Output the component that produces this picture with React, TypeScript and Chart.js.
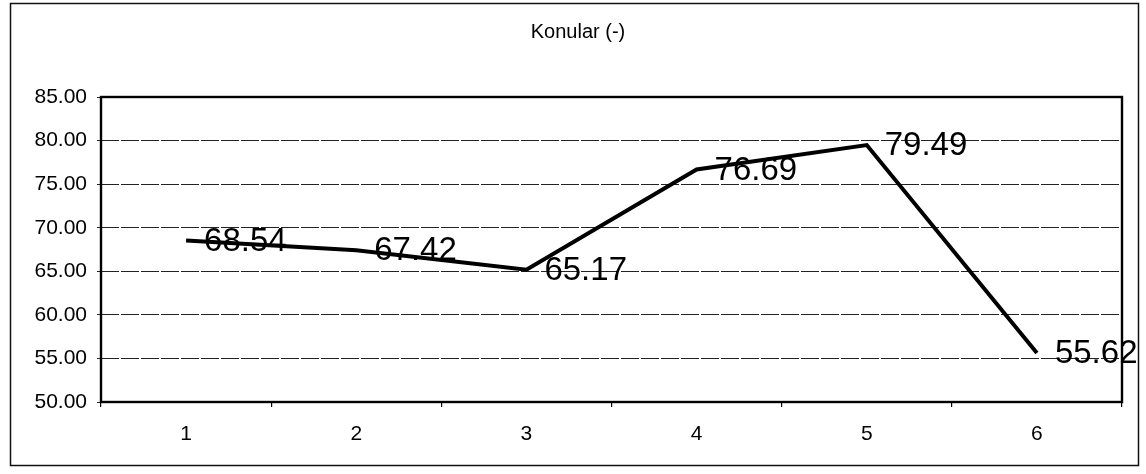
import { useEffect, useRef } from 'react';
import { Chart, registerables } from 'chart.js';

Chart.register(...registerables);

const categories = ['1', '2', '3', '4', '5', '6'];
const konularValues = [68.54, 67.42, 65.17, 76.69, 79.49, 55.62];
const yMin = 50;
const yMax = 85;
const yStep = 5;
const chartTitle = 'Konular (-)';

const FONT = '"Liberation Sans", Arial, sans-serif';

export default function App() {
  const ref = useRef<HTMLCanvasElement>(null);

  useEffect(() => {
    if (!ref.current) return;

    const decor = {
      id: 'decor',
      beforeDraw(chart: any) {
        const ctx = chart.ctx;
        ctx.save();
        ctx.fillStyle = '#ffffff';
        ctx.fillRect(0, 0, chart.width, chart.height);
        ctx.strokeStyle = '#111';
        ctx.lineWidth = 1.5;
        ctx.strokeRect(10.5, 3.5, chart.width - 18, chart.height - 12);
        ctx.restore();
      },
      afterDraw(chart: any) {
        const ctx = chart.ctx;
        const a = chart.chartArea;
        ctx.save();
        // plot area frame
        ctx.strokeStyle = '#000';
        ctx.lineWidth = 2.4;
        ctx.strokeRect(a.left, a.top, a.right - a.left, a.bottom - a.top);
        // title
        ctx.fillStyle = '#000';
        ctx.font = `20px ${FONT}`;
        ctx.textAlign = 'center';
        ctx.textBaseline = 'middle';
        ctx.fillText(chartTitle, chart.width / 2 + 5, 32);
        // data labels
        const meta = chart.getDatasetMeta(0);
        ctx.font = `33px ${FONT}`;
        ctx.textAlign = 'left';
        ctx.textBaseline = 'middle';
        meta.data.forEach((pt: any, i: number) => {
          const v = chart.data.datasets[0].data[i] as number;
          ctx.fillText(v.toFixed(2), pt.x + 18, pt.y + 1);
        });
        ctx.restore();
      },
    };

    const chart = new Chart(ref.current, {
      type: 'line',
      data: {
        labels: categories,
        datasets: [
          {
            label: chartTitle,
            data: konularValues,
            borderColor: '#000',
            borderWidth: 4,
            pointRadius: 0,
            tension: 0,
            fill: false,
          },
        ],
      },
      options: {
        responsive: false,
        animation: false,
        devicePixelRatio: 1,
        layout: { padding: { left: 0, right: 24, top: 97, bottom: 0 } },
        plugins: {
          legend: { display: false },
          title: { display: false },
          tooltip: { enabled: false },
        },
        scales: {
          x: {
            type: 'category',
            offset: true,
            grid: {
              offset: true,
              drawOnChartArea: false,
              drawTicks: true,
              tickLength: 5,
              color: '#000',
              lineWidth: 1.2,
            },
            border: { display: false },
            ticks: {
              color: '#000',
              font: { family: FONT, size: 21 },
              padding: 15,
              maxRotation: 0,
            },
            afterFit(scale: any) {
              scale.height = 72;
            },
          },
          y: {
            min: yMin,
            max: yMax,
            grid: {
              color: '#222',
              lineWidth: 1,
              tickLength: 4,
            },
            border: { display: false, dash: [18, 2] },
            ticks: {
              stepSize: yStep,
              color: '#000',
              font: { family: FONT, size: 21 },
              padding: 10,
              callback: (v: any) => Number(v).toFixed(2),
            },
            afterFit(scale: any) {
              scale.width = 101;
            },
          },
        },
      },
      plugins: [decor],
    });

    return () => chart.destroy();
  }, []);

  return (
    <div style={{ position: 'absolute', left: 0, top: 0, width: 1146, height: 474 }}>
      <canvas ref={ref} width={1146} height={474} style={{ width: 1146, height: 474, display: 'block' }} />
    </div>
  );
}
